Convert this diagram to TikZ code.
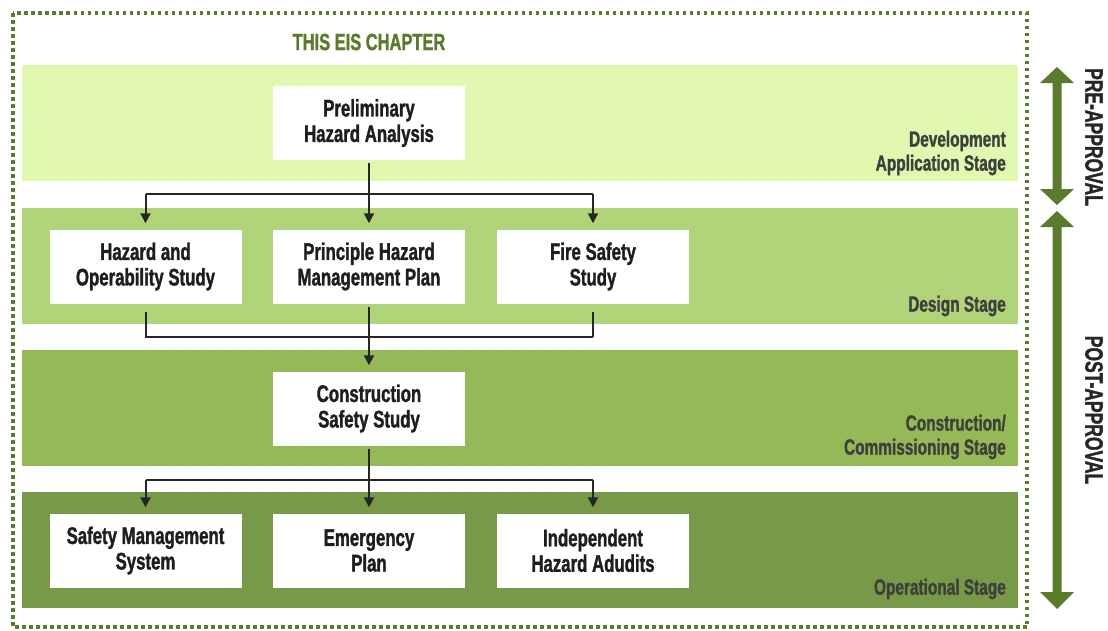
\documentclass[tikz,border=0pt]{standalone}
\usepackage{fontspec}
\setmainfont{Liberation Sans}[FakeStretch=0.70,BoldFont={Liberation Sans Bold},BoldFeatures={FakeStretch=0.70,FakeBold=1.3}]
\usetikzlibrary{arrows.meta}
\definecolor{olive}{HTML}{5A7A2C}
\definecolor{bandA}{HTML}{E0F8B0}
\definecolor{bandB}{HTML}{B1D47B}
\definecolor{bandC}{HTML}{96B958}
\definecolor{bandD}{HTML}{789A48}
\definecolor{stagetxt}{HTML}{3E413B}
\definecolor{boxtxt}{HTML}{1E1E1E}
\tikzset{
  band/.style={draw=none,inner sep=0pt,minimum width=996pt,minimum height=116pt,anchor=north west},
  stepbox/.style={fill=white,draw=none,minimum width=192pt,minimum height=74pt,align=center,
    font=\bfseries\fontsize{24}{25.5}\selectfont,text=boxtxt,inner sep=0pt,
    execute at begin node={\rule{0pt}{27pt}}},
  stagelbl/.style={align=right,anchor=east,font=\bfseries\fontsize{22}{24}\selectfont,text=stagetxt,inner sep=0pt},
  conn/.style={line width=2pt,black!85},
  arr/.style={conn,-{Triangle[width=10pt,length=10pt]}},
  bigarrow/.style={fill=olive,draw=none},
  sidelbl/.style={rotate=-90,font=\bfseries\fontsize{25}{26}\selectfont,text=black!85,inner sep=0pt}
}
\begin{document}
\begin{tikzpicture}[x=1pt,y=-1pt]
\useasboundingbox (0,0) rectangle (1108,630);
% dotted frame
\draw[olive,line width=3.2pt,dash pattern=on 3.5pt off 3.5pt] (13,13) rectangle (1027,627);
\node[font=\bfseries\fontsize{23.5}{26}\selectfont,text=olive,inner sep=0pt] (title) at (369,42) {THIS EIS CHAPTER};
% bands
\node[band,fill=bandA] (b1) at (22,65) {};
\node[band,fill=bandB] (b2) at (22,208) {};
\node[band,fill=bandC] (b3) at (22,350) {};
\node[band,fill=bandD] (b4) at (22,492) {};
% stage labels
\node[stagelbl] (s1) at (1006,153) {Development\\Application Stage};
\node[stagelbl] (s2) at (1006,306) {Design Stage};
\node[stagelbl] (s3) at (1006,437) {Construction/\\Commissioning Stage};
\node[stagelbl] (s4) at (1006,589) {Operational Stage};
% boxes
\node[stepbox] (pha) at (369,123) {Preliminary\\Hazard Analysis};
\node[stepbox] (hazop) at (145.5,266.5) {Hazard and\\Operability Study};
\node[stepbox] (phmp) at (369,266.5) {Principle Hazard\\Management Plan};
\node[stepbox] (fss) at (593,266.5) {Fire Safety\\Study};
\node[stepbox] (css) at (369,408.5) {Construction\\Safety Study};
\node[stepbox] (sms) at (145.5,550.5) {Safety Management\\System};
\node[stepbox] (ep) at (369,550.5) {Emergency\\Plan};
\node[stepbox] (iha) at (593,550.5) {Independent\\Hazard Adudits};
% junctions
\coordinate (j1) at (369,194);
\coordinate (j2) at (369,337);
\coordinate (j3) at (369,480);
% connectors level 1
\draw[conn,shorten <=3pt] (pha.south) -- (j1);
\draw[conn] (j1 -| hazop) -- (j1 -| fss);
\draw[arr,shorten >=6pt] (j1 -| hazop) -- (hazop.north);
\draw[arr,shorten >=6pt] (j1) -- (phmp.north);
\draw[arr,shorten >=6pt] (j1 -| fss) -- (fss.north);
% connectors level 2
\draw[conn,shorten <=8pt] (hazop.south) -- (hazop.south |- j2) -- (fss.south |- j2);
\draw[conn,shorten >=8pt] (fss.south |- j2) -- (fss.south);
\draw[arr,shorten <=3pt,shorten >=6pt] (phmp.south) -- (css.north);
% connectors level 3
\draw[conn,shorten <=3pt] (css.south) -- (j3);
\draw[conn] (j3 -| sms) -- (j3 -| iha);
\draw[arr,shorten >=6pt] (j3 -| sms) -- (sms.north);
\draw[arr,shorten >=6pt] (j3) -- (ep.north);
\draw[arr,shorten >=6pt] (j3 -| iha) -- (iha.north);
% side arrows
\path[bigarrow] (1057,67) -- (1074,83) -- (1061.5,83) -- (1061.5,189) -- (1074,189) -- (1057,205)
  -- (1040,189) -- (1052.5,189) -- (1052.5,83) -- (1040,83) -- cycle;
\path[bigarrow] (1057,211) -- (1074,227) -- (1061.5,227) -- (1061.5,592) -- (1074,592) -- (1057,609)
  -- (1040,592) -- (1052.5,592) -- (1052.5,227) -- (1040,227) -- cycle;
\node[sidelbl] (pre) at (1094,137) {PRE-APPROVAL};
\node[sidelbl] (post) at (1094,410) {POST-APPROVAL};
\end{tikzpicture}
\end{document}
